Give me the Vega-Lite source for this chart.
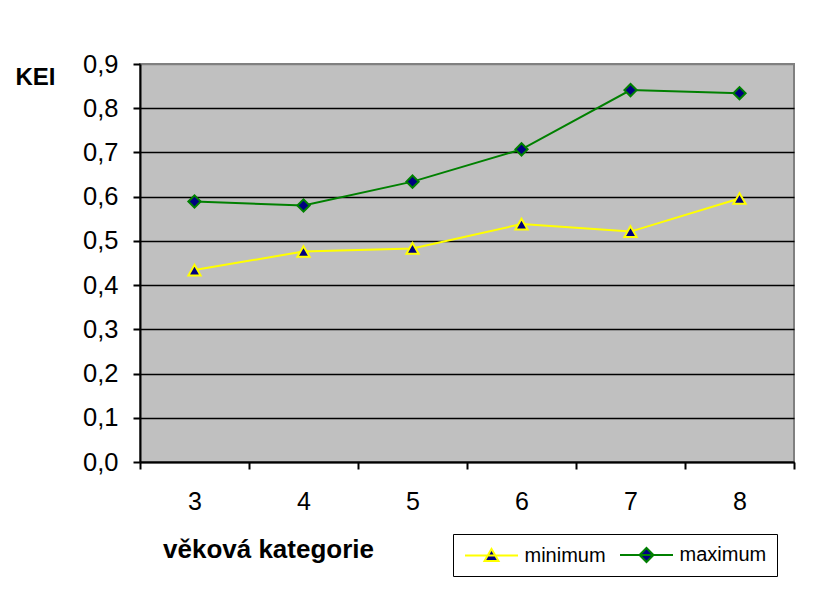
{
  "$schema": "https://vega.github.io/schema/vega-lite/v6.json",
  "width": 654,
  "height": 398,
  "autosize": {"type": "none"},
  "padding": {"left": 140, "top": 64, "right": 44, "bottom": 131},
  "background": "white",
  "config": {
    "font": "Liberation Sans",
    "view": {"fill": "#C0C0C0", "stroke": "#808080", "strokeWidth": 2}
  },
  "data": {
    "values": [
      {"kategorie": "3", "series": "minimum", "KEI": 0.434},
      {"kategorie": "4", "series": "minimum", "KEI": 0.476},
      {"kategorie": "5", "series": "minimum", "KEI": 0.483},
      {"kategorie": "6", "series": "minimum", "KEI": 0.538},
      {"kategorie": "7", "series": "minimum", "KEI": 0.521},
      {"kategorie": "8", "series": "minimum", "KEI": 0.596},
      {"kategorie": "3", "series": "maximum", "KEI": 0.589},
      {"kategorie": "4", "series": "maximum", "KEI": 0.580},
      {"kategorie": "5", "series": "maximum", "KEI": 0.634},
      {"kategorie": "6", "series": "maximum", "KEI": 0.707},
      {"kategorie": "7", "series": "maximum", "KEI": 0.841},
      {"kategorie": "8", "series": "maximum", "KEI": 0.834}
    ]
  },
  "encoding": {
    "x": {
      "field": "kategorie",
      "type": "ordinal",
      "bandPosition": 0.5,
      "scale": {"type": "band", "paddingInner": 0, "paddingOuter": 0},
      "axis": {
        "title": "věková kategorie",
        "titleFontSize": 26,
        "titleFontWeight": "bold",
        "titleColor": "black",
        "titleX": 128,
        "titleY": 95,
        "titleAlign": "center",
        "titleBaseline": "alphabetic",
        "labelAngle": 0,
        "labelFontSize": 25,
        "labelColor": "black",
        "labelPadding": 20,
        "tickBand": "extent",
        "tickSize": 7,
        "tickColor": "black",
        "tickWidth": 2,
        "domainColor": "black",
        "domainWidth": 2,
        "grid": false
      }
    },
    "y": {
      "field": "KEI",
      "type": "quantitative",
      "scale": {"domain": [0, 0.9], "nice": false, "zero": true},
      "axis": {
        "values": [0, 0.1, 0.2, 0.3, 0.4, 0.5, 0.6, 0.7, 0.8, 0.9],
        "labelExpr": "replace(format(datum.value, '.1f'), '.', ',')",
        "labelFontSize": 25.5,
        "labelColor": "black",
        "labelPadding": 15,
        "tickSize": 7,
        "tickColor": "black",
        "tickWidth": 2,
        "domainColor": "black",
        "domainWidth": 2,
        "grid": true,
        "gridColor": {"condition": {"test": "datum.value >= 0.89", "value": "#808080"}, "value": "black"},
        "gridWidth": 1.6,
        "gridOpacity": 1,
        "title": "KEI",
        "titleAngle": 0,
        "titleX": -125,
        "titleY": 20,
        "titleAlign": "left",
        "titleBaseline": "alphabetic",
        "titleFontSize": 24,
        "titleFontWeight": "bold",
        "titleColor": "black"
      }
    }
  },
  "resolve": {"scale": {"shape": "independent"}},
  "layer": [
    {
      "mark": {"type": "line", "strokeWidth": 2},
      "encoding": {
        "stroke": {
          "field": "series",
          "type": "nominal",
          "scale": {"domain": ["minimum", "maximum"], "range": ["#FFFF00", "#008000"]},
          "legend": null
        }
      }
    },
    {
      "mark": {"type": "point", "filled": true, "size": 150, "fill": "#000080", "fillOpacity": 1, "strokeWidth": 2, "opacity": 1},
      "encoding": {
        "shape": {
          "field": "series",
          "type": "nominal",
          "scale": {"domain": ["minimum", "maximum"], "range": ["triangle-up", "diamond"]},
          "legend": null
        },
        "stroke": {
          "field": "series",
          "type": "nominal",
          "scale": {"domain": ["minimum", "maximum"], "range": ["#FFFF00", "#008000"]},
          "legend": null
        }
      }
    },
    {
      "mark": {
        "type": "point",
        "filled": true,
        "size": 150,
        "fill": "#000080",
        "fillOpacity": 1,
        "stroke": {"expr": "datum.value == 'minimum' ? '#FFFF00' : '#008000'"},
        "strokeWidth": 2,
        "opacity": 0
      },
      "encoding": {
        "shape": {
          "field": "series",
          "type": "nominal",
          "scale": {"domain": ["minimum", "maximum"], "range": ["M-2.65,0L2.65,0M0,-0.65L0.7,0.55L-0.7,0.55Z", "M-2.65,0L2.65,0M0,-0.7L0.7,0L0,0.7L-0.7,0Z"]},
          "legend": {
            "title": null,
            "orient": "none",
            "legendX": 313,
            "legendY": 470,
            "direction": "horizontal",
            "strokeColor": "black",
            "fillColor": "white",
            "padding": 10,
            "symbolSize": 400,
            "symbolOffset": 17.5,
            "labelOffset": 22,
            "columnPadding": 10,
            "labelFontSize": 20,
            "labelColor": "black",
            "labelLimit": 200,
            "symbolStrokeWidth": 2,
            "symbolOpacity": 1,
            "symbolFillColor": "#000080"
          }
        }
      }
    }
  ]
}
